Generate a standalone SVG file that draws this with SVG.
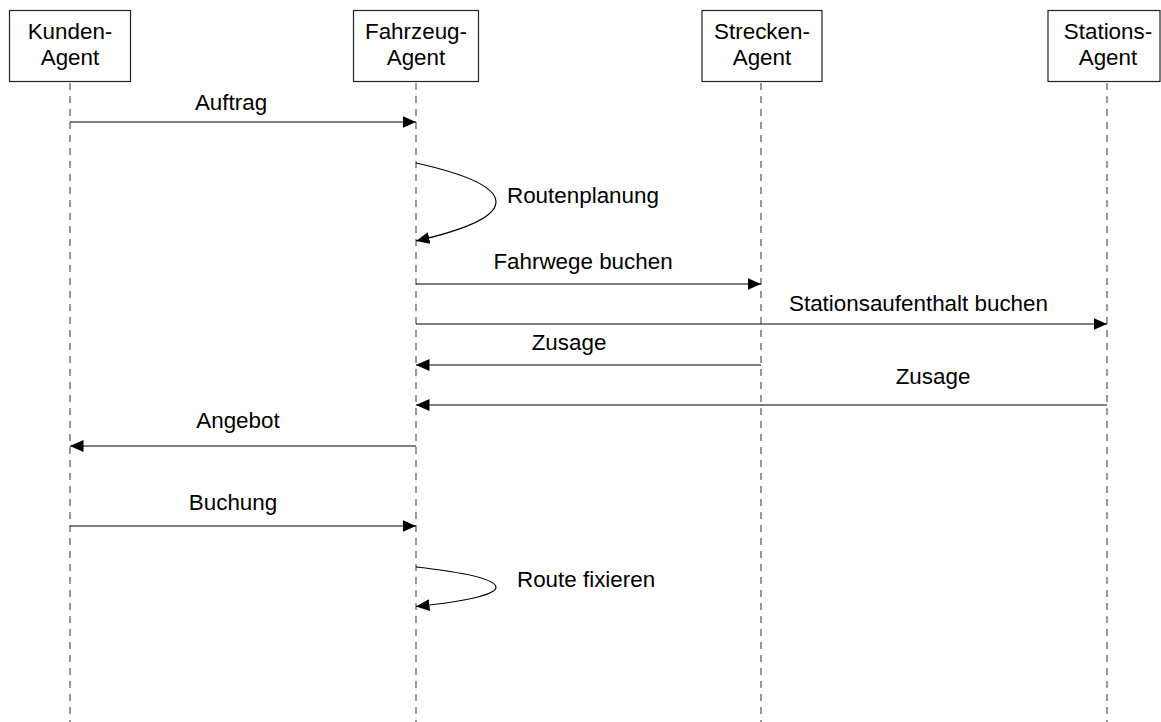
<svg xmlns="http://www.w3.org/2000/svg" width="1161" height="722" viewBox="0 0 1161 722">
  <style>
    text { font-family: "Liberation Sans", Arial, sans-serif; font-size: 22.4px; fill: #000; }
    .box { fill: #fff; stroke: #222; stroke-width: 1.2; }
    .life { stroke: #555; stroke-width: 1.2; stroke-dasharray: 7 6; fill: none; }
    .msg { stroke: #000; stroke-width: 1.2; fill: none; marker-end: url(#arrow); }
    .mid { text-anchor: middle; }
  </style>
  <defs>
    <marker id="arrow" markerUnits="userSpaceOnUse" markerWidth="14" markerHeight="13" refX="13.5" refY="6.5" orient="auto">
      <path d="M0,0.5 L13.5,6.5 L0,12.5 z" fill="#000"/>
    </marker>
  </defs>
  <rect width="1161" height="722" fill="#fff"/>

  <!-- lifelines -->
  <g id="lifelines">
    <line class="life" x1="70" y1="83" x2="70" y2="722"/>
    <line class="life" x1="416" y1="83" x2="416" y2="722"/>
    <line class="life" x1="761" y1="83" x2="761" y2="722"/>
    <line class="life" x1="1107" y1="83" x2="1107" y2="722"/>
  </g>

  <!-- agents -->
  <g id="kunden-agent">
    <rect class="box" x="9.5" y="10.5" width="121" height="71"/>
    <text class="mid" x="70" y="39">Kunden-</text>
    <text class="mid" x="70" y="65">Agent</text>
  </g>
  <g id="fahrzeug-agent">
    <rect class="box" x="353.5" y="10.5" width="125" height="71"/>
    <text class="mid" x="416" y="39">Fahrzeug-</text>
    <text class="mid" x="416" y="65">Agent</text>
  </g>
  <g id="strecken-agent">
    <rect class="box" x="702" y="10.5" width="120" height="71"/>
    <text class="mid" x="762" y="39">Strecken-</text>
    <text class="mid" x="762" y="65">Agent</text>
  </g>
  <g id="stations-agent">
    <rect class="box" x="1048" y="10.5" width="112" height="71"/>
    <text class="mid" x="1108" y="39">Stations-</text>
    <text class="mid" x="1108" y="65">Agent</text>
  </g>

  <!-- messages -->
  <g id="connectors">
    <line class="msg" x1="70" y1="122" x2="416" y2="122"/>
    <path class="msg" d="M416,163 C515,185 530,215 416,241"/>
    <line class="msg" x1="416" y1="284" x2="761" y2="284"/>
    <line class="msg" x1="416" y1="324" x2="1107" y2="324"/>
    <line class="msg" x1="761" y1="365" x2="416" y2="365"/>
    <line class="msg" x1="1107" y1="405" x2="416" y2="405"/>
    <line class="msg" x1="416" y1="446" x2="70" y2="446"/>
    <line class="msg" x1="70" y1="526" x2="416" y2="526"/>
    <path class="msg" d="M416,567 C515,578 530,595 416,606.5"/>
  </g>

  <!-- message labels -->
  <g id="labels">
    <text class="mid" x="231" y="110">Auftrag</text>
    <text x="507" y="203">Routenplanung</text>
    <text class="mid" x="583" y="269">Fahrwege buchen</text>
    <text x="789" y="311">Stationsaufenthalt buchen</text>
    <text class="mid" x="569" y="350">Zusage</text>
    <text class="mid" x="933" y="384">Zusage</text>
    <text class="mid" x="238" y="428">Angebot</text>
    <text class="mid" x="233" y="510">Buchung</text>
    <text x="517" y="587">Route fixieren</text>
  </g>
</svg>
